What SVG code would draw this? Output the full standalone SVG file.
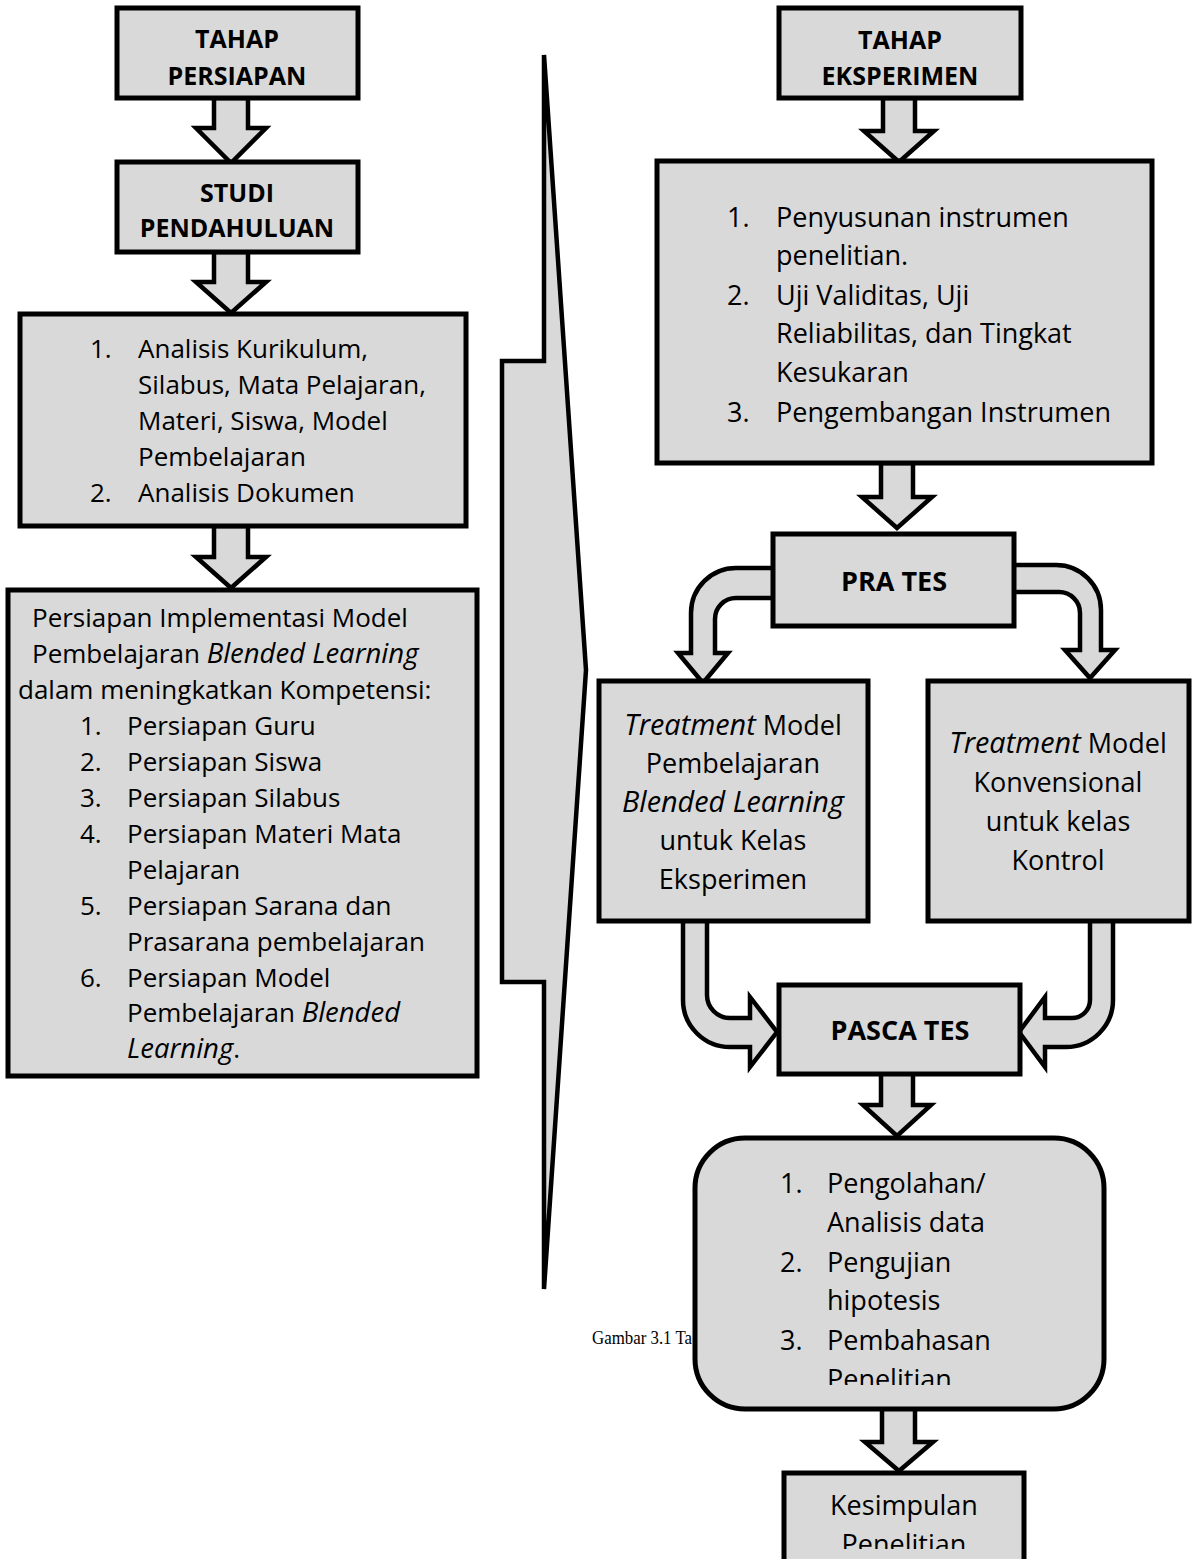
<svg xmlns="http://www.w3.org/2000/svg" width="1192" height="1559" viewBox="0 0 1192 1559">
<defs>
<style>
.box{fill:#d9d9d9;stroke:#000;stroke-width:5}
.arr{fill:#d9d9d9;stroke:#000;stroke-width:4.5;stroke-linejoin:miter}
.t{font-family:"Open Sans","Liberation Sans",sans-serif;fill:#000}
.b{font-weight:bold;font-size:25px;text-anchor:middle}
.b2{font-size:27px}
.m{font-size:26px}
.r{font-size:27px}
.c{text-anchor:middle}
.i{font-style:italic}
.m .i{font-size:27.5px}
.r .i, .r.i{font-size:28.8px}
</style>
<clipPath id="clipRound"><rect x="690" y="1130" width="420" height="255"/></clipPath>
<clipPath id="clipKes"><rect x="780" y="1470" width="250" height="79"/></clipPath>
</defs>
<rect width="1192" height="1559" fill="#fff"/>
<g id="caption">
<text x="592" y="1344" textLength="100" lengthAdjust="spacingAndGlyphs" style="font-family:'Liberation Serif',serif;font-size:19px">Gambar 3.1 Ta</text>
</g>
<g id="divider">
<polygon class="arr" points="544,55 586,670 544,1289 544,982 502,982 502,361 544,361" stroke-linejoin="round"/>
</g>
<g id="connectors">
<path class="arr" d="M214,98 V128 H196 L231,163 L266,128 H248 V98 Z"/>
<path class="arr" d="M214,252 V282 H196 L231,313 L266,282 H248 V252 Z"/>
<path class="arr" d="M214,526 V557 H196 L231,588 L266,557 H248 V526 Z"/>
<path class="arr" d="M883,98 V131 H864 L899,162 L934,131 H915 V98 Z"/>
<path class="arr" d="M881,463 V497 H862 L897,528 L932,497 H913 V463 Z"/>
<path class="arr" d="M780,568 H736 A45,45 0 0 0 691,613 V653 H678 L703,683 L728,653 H715 V619 A21,21 0 0 1 736,598 H780 Z"/>
<path class="arr" d="M1008,565 H1056 A45,45 0 0 1 1101,610 V650 H1115 L1090,678 L1065,650 H1080 V613 A21,21 0 0 0 1059,592 H1008 Z"/>
<path class="arr" d="M683,918 V1000 A47,47 0 0 0 730,1047 H750 V1067 L777,1032 L750,997 V1018 H730 A23,23 0 0 1 707,995 V918 Z"/>
<path class="arr" d="M1113,918 V1000 A47,47 0 0 1 1066,1047 H1045 V1067 L1019,1032 L1045,997 V1018 H1072 A18,18 0 0 0 1090,1000 V918 Z"/>
<path class="arr" d="M881,1073 V1105 H863 L897,1136 L931,1105 H913 V1073 Z"/>
<path class="arr" d="M882,1408 V1442 H865 L899,1471 L933,1442 H915 V1408 Z"/>
</g>
<g id="node-tahap-persiapan">
<rect class="box" x="117" y="8" width="241" height="90"/>
<text class="t b" x="237" y="48">TAHAP</text>
<text class="t b" x="237" y="85">PERSIAPAN</text>
</g>
<g id="node-studi-pendahuluan">
<rect class="box" x="117" y="162" width="241" height="90"/>
<text class="t b" x="237" y="202">STUDI</text>
<text class="t b" x="237" y="237">PENDAHULUAN</text>
</g>
<g id="node-analisis">
<rect class="box" x="20" y="314" width="446" height="212"/>
<text class="t m" x="90" y="358">1.</text>
<text class="t m" x="138" y="358">Analisis Kurikulum,</text>
<text class="t m" x="138" y="394">Silabus, Mata Pelajaran,</text>
<text class="t m" x="138" y="430">Materi, Siswa, Model</text>
<text class="t m" x="138" y="466">Pembelajaran</text>
<text class="t m" x="90" y="502">2.</text>
<text class="t m" x="138" y="502">Analisis Dokumen</text>
</g>
<g id="node-persiapan-implementasi">
<rect class="box" x="8" y="590" width="469" height="486"/>
<text class="t m" x="32" y="627">Persiapan Implementasi Model</text>
<text class="t m" x="32" y="663">Pembelajaran <tspan class="i">Blended Learning</tspan></text>
<text class="t m" x="18" y="699">dalam meningkatkan Kompetensi:</text>
<text class="t m" x="80" y="735">1.</text><text class="t m" x="127" y="735">Persiapan Guru</text>
<text class="t m" x="80" y="771">2.</text><text class="t m" x="127" y="771">Persiapan Siswa</text>
<text class="t m" x="80" y="807">3.</text><text class="t m" x="127" y="807">Persiapan Silabus</text>
<text class="t m" x="80" y="843">4.</text><text class="t m" x="127" y="843">Persiapan Materi Mata</text>
<text class="t m" x="127" y="879">Pelajaran</text>
<text class="t m" x="80" y="915">5.</text><text class="t m" x="127" y="915">Persiapan Sarana dan</text>
<text class="t m" x="127" y="951">Prasarana pembelajaran</text>
<text class="t m" x="80" y="987">6.</text><text class="t m" x="127" y="987">Persiapan Model</text>
<text class="t m" x="127" y="1022">Pembelajaran <tspan class="i">Blended</tspan></text>
<text class="t m" x="127" y="1058"><tspan class="i">Learning</tspan>.</text>
</g>
<g id="node-tahap-eksperimen">
<rect class="box" x="779" y="8" width="242" height="90"/>
<text class="t b" x="900" y="49">TAHAP</text>
<text class="t b" x="900" y="85">EKSPERIMEN</text>
</g>
<g id="node-instrumen">
<rect class="box" x="657" y="161" width="495" height="302"/>
<text class="t r" x="727" y="227">1.</text>
<text class="t r" x="776" y="227">Penyusunan instrumen</text>
<text class="t r" x="776" y="265">penelitian.</text>
<text class="t r" x="727" y="305">2.</text>
<text class="t r" x="776" y="305">Uji Validitas, Uji</text>
<text class="t r" x="776" y="343">Reliabilitas, dan Tingkat</text>
<text class="t r" x="776" y="382">Kesukaran</text>
<text class="t r" x="727" y="422">3.</text>
<text class="t r" x="776" y="422">Pengembangan Instrumen</text>
</g>
<g id="node-pra-tes">
<rect class="box" x="773" y="534" width="241" height="92"/>
<text class="t b b2" x="894" y="591">PRA TES</text>
</g>
<g id="node-treatment-eksperimen">
<rect class="box" x="599" y="681" width="269" height="240"/>
<text class="t r c" x="733" y="735"><tspan class="i">Treatment</tspan> Model</text>
<text class="t r c" x="733" y="773">Pembelajaran</text>
<text class="t r c i" x="733" y="812">Blended Learning</text>
<text class="t r c" x="733" y="850">untuk Kelas</text>
<text class="t r c" x="733" y="889">Eksperimen</text>
</g>
<g id="node-treatment-kontrol">
<rect class="box" x="928" y="681" width="261" height="240"/>
<text class="t r c" x="1058" y="753"><tspan class="i">Treatment</tspan> Model</text>
<text class="t r c" x="1058" y="792">Konvensional</text>
<text class="t r c" x="1058" y="831">untuk kelas</text>
<text class="t r c" x="1058" y="870">Kontrol</text>
</g>
<g id="node-pasca-tes">
<rect class="box" x="779" y="985" width="241" height="89"/>
<text class="t b b2" x="900" y="1040">PASCA TES</text>
</g>
<g id="node-pengolahan">
<rect class="box" x="695" y="1138" width="409" height="271" rx="50" ry="50"/>
<g clip-path="url(#clipRound)">
<text class="t r" x="780" y="1193">1.</text>
<text class="t r" x="827" y="1193">Pengolahan/</text>
<text class="t r" x="827" y="1232">Analisis data</text>
<text class="t r" x="780" y="1272">2.</text>
<text class="t r" x="827" y="1272">Pengujian</text>
<text class="t r" x="827" y="1310">hipotesis</text>
<text class="t r" x="780" y="1350">3.</text>
<text class="t r" x="827" y="1350">Pembahasan</text>
<text class="t r" x="827" y="1389">Penelitian</text>
</g>
</g>
<g id="node-kesimpulan">
<rect class="box" x="784" y="1473" width="240" height="100"/>
<g clip-path="url(#clipKes)">
<text class="t r c" x="904" y="1515">Kesimpulan</text>
<text class="t r c" x="904" y="1554">Penelitian</text>
</g>
</g>
</svg>
